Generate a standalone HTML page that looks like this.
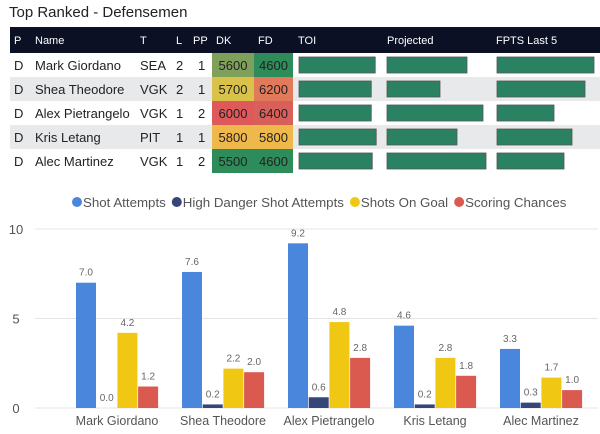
<!DOCTYPE html>
<html><head><meta charset="utf-8"><style>
body{margin:0;width:600px;height:434px;background:#fff;font-family:"Liberation Sans",sans-serif;overflow:hidden;position:relative}
.t{position:absolute;white-space:nowrap}
</style></head><body>
<div class="t" style="left:9px;top:4px;font-size:15px;color:#222">Top Ranked - Defensemen</div>
<svg id="tbl" width="600" height="180" style="position:absolute;left:0;top:0"></svg>
<svg id="ch" width="600" height="434" style="position:absolute;left:0;top:0"></svg>
<script>
const players=["Mark Giordano","Shea Theodore","Alex Pietrangelo","Kris Letang","Alec Martinez"];
const teams=["SEA","VGK","VGK","PIT","VGK"];
const lines=[2,2,1,1,1];
const pps=[1,1,2,1,2];
const dk=[5600,5700,6000,5800,5500];
const fd=[4600,6200,6400,5800,4600];
const toi=[77,73,73,78,74];
const projected=[80,53,96,70,99];
const fpts5=[97,88,57,75,67];
const shotAttempts=[7.0,7.6,9.2,4.6,3.3];
const highDanger=[0.0,0.2,0.6,0.2,0.3];
const shotsOnGoal=[4.2,2.2,4.8,2.8,1.7];
const scoringChances=[1.2,2.0,2.8,1.8,1.0];
const yTicks=[0,5,10];
const NS="http://www.w3.org/2000/svg";
function mk(p,tag,a){const e=document.createElementNS(NS,tag);for(const k in a)e.setAttribute(k,a[k]);p.appendChild(e);return e;}
const tbl=document.getElementById('tbl');
const hdr=mk(tbl,'rect',{x:10,y:27,width:590,height:26,fill:'#0b1025'});


const heads=[["P",14],["Name",35],["T",140],["L",176],["PP",193],["DK",216],["FD",258],["TOI",298],["Projected",387],["FPTS Last 5",496]];
heads.forEach(h=>{const t=mk(tbl,'text',{x:h[1],y:44,fill:'#fff','font-size':11});t.textContent=h[0];

});
function dkCol(v){return {5500:'#2e8b5a',5600:'#7ea05a',5700:'#d9c24a',5800:'#eeb84a',6000:'#e0595a'}[v]||'#ccc';}
function fdCol(v){return {4600:'#2e8b5a',5800:'#eeb84a',6200:'#e07a5a',6400:'#d9605a'}[v]||'#ccc';}
const RH=24,R0=53;
players.forEach((p,i)=>{const y=R0+i*RH;
 if(i%2==1){const bg=mk(tbl,'rect',{x:10,y:y,width:590,height:RH,fill:'#e8e9ea'});}
 const cells=[["D",14],[p,35],[teams[i],140],[lines[i],176],[pps[i],198]];
 cells.forEach(c=>{const t=mk(tbl,'text',{x:c[1],y:y+17,fill:'#222','font-size':13});t.textContent=c[0];
 });
 const r1=mk(tbl,'rect',{x:212,y:y,width:42,height:RH,fill:dkCol(dk[i])});
 const r2=mk(tbl,'rect',{x:254,y:y,width:39,height:RH,fill:fdCol(fd[i])});
 let t=mk(tbl,'text',{x:233,y:y+17,fill:'#222','font-size':13,'text-anchor':'middle'});t.textContent=dk[i];
 t=mk(tbl,'text',{x:273.5,y:y+17,fill:'#222','font-size':13,'text-anchor':'middle'});t.textContent=fd[i];
 [[toi,299,0.99],[projected,387,1.0],[fpts5,497,1.0]].forEach(b=>{
  const w=b[0][i]*b[2];
  const r=mk(tbl,'rect',{x:b[1],y:y+4,width:w,height:16,fill:'#2a8262',stroke:'#555','stroke-width':0.8});
  });
});
// chart
const ch=document.getElementById('ch');
const y0=408,y10=229;
const ys=v=>y0-(y0-y10)*v/10;
const bandX=i=>76+i*106;
const BW=20;
yTicks.forEach(v=>{const g=mk(ch,'line',{x1:35,x2:598,y1:ys(v),y2:ys(v),stroke:'#e4e4e4','stroke-width':1});

const t=mk(ch,'text',{x:16,y:ys(v)+5,fill:'#555','font-size':13,'text-anchor':'middle'});t.textContent=v;
});
const series=[[shotAttempts,'#4a86dc','Shot Attempts'],[highDanger,'#374679','High Danger Shot Attempts'],[shotsOnGoal,'#f0c814','Shots On Goal'],[scoringChances,'#db5a50','Scoring Chances']];
players.forEach((p,i)=>{
 series.forEach((s,j)=>{const v=s[0][i];const x=bandX(i)+j*(BW+0.7);
  const r=mk(ch,'rect',{x:x,y:ys(v),width:BW,height:y0-ys(v),fill:s[1]});
  
  const t=mk(ch,'text',{x:x+BW/2,y:ys(v)-7,fill:'#666','font-size':10,'text-anchor':'middle'});t.textContent=v.toFixed(1);
  });
 const t=mk(ch,'text',{x:bandX(i)+41,y:425,fill:'#555','font-size':12.5,'text-anchor':'middle'});t.textContent=p;
 
});
let lx=72;
series.forEach(s=>{const c=mk(ch,'circle',{cx:lx+5,cy:202,r:5,fill:s[1]});
 const t=mk(ch,'text',{x:lx+11,y:207,fill:'#555','font-size':13.3});t.textContent=s[2];
 
 lx+=11+t.getComputedTextLength()+6;});
</script>
</body></html>
